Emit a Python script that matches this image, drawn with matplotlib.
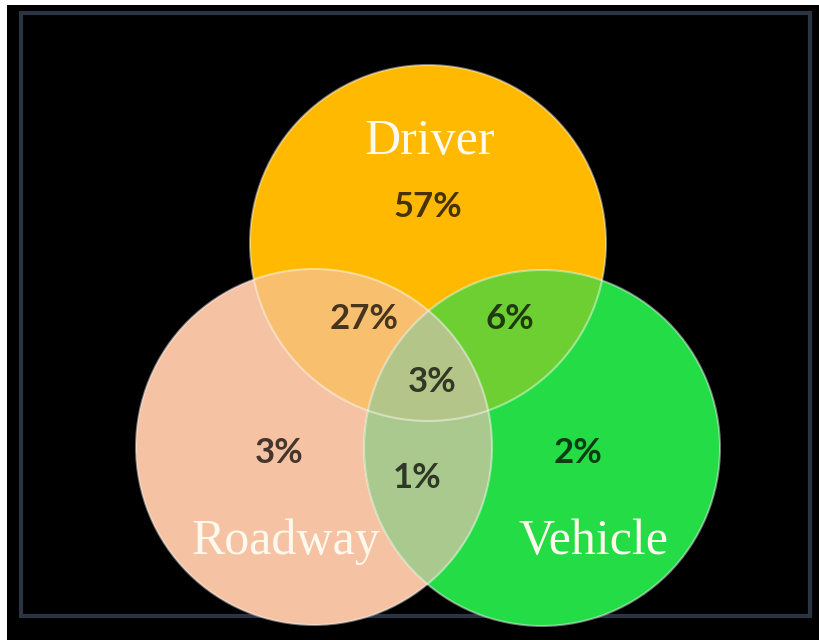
import numpy as np
import matplotlib
matplotlib.use("Agg")
import matplotlib.pyplot as plt
from matplotlib.patches import Circle, Polygon, Rectangle

# ---- data ----
set_names = ["Driver", "Roadway", "Vehicle"]
region_keys = ["D", "R", "V", "DR", "DV", "RV", "DRV"]
region_values = [57, 3, 2, 27, 6, 1, 3]

# ---- layout / style ----
centers = {"D": (428, 243), "R": (314, 447), "V": (542, 448)}
radius = 178
base_colors = {"D": "#FFB900", "R": "#F5C2A3", "V": "#24DC46"}
overlap_colors = {"DR": "#F8BF6E", "DV": "#6ECF32", "RV": "#AAC98E", "DRV": "#B3C589"}
name_pos = {"Driver": (430, 142), "Roadway": (286, 542), "Vehicle": (594, 542)}
value_pos = {"D": (428, 207), "R": (279, 453), "V": (578, 453),
             "DR": (364, 319), "DV": (510, 319), "RV": (417, 478), "DRV": (432, 382)}

fig = plt.figure(figsize=(8.2, 6.4), dpi=100, facecolor="white")
ax = fig.add_axes([0, 0, 1, 1])
ax.set_xlim(0, 820)
ax.set_ylim(640, 0)
ax.axis("off")

ax.add_patch(Rectangle((7, 5), 813, 635, facecolor="black", edgecolor="none", zorder=0))
ax.add_patch(Rectangle((21.5, 12.5), 789, 603, facecolor="none", edgecolor="#2B3440",
                       linewidth=3, zorder=1))


def intersection_polygon(keys, n=720):
    pts = []
    t = np.linspace(0, 2 * np.pi, n, endpoint=False)
    for k in keys:
        cx, cy = centers[k]
        xs = cx + radius * np.cos(t)
        ys = cy + radius * np.sin(t)
        mask = np.ones(n, dtype=bool)
        for o in keys:
            if o == k:
                continue
            ox, oy = centers[o]
            mask &= (xs - ox) ** 2 + (ys - oy) ** 2 <= radius ** 2 + 1e-6
        pts.append(np.column_stack([xs[mask], ys[mask]]))
    pts = np.vstack(pts)
    c = pts.mean(axis=0)
    ang = np.arctan2(pts[:, 1] - c[1], pts[:, 0] - c[0])
    return pts[np.argsort(ang)]


for k in ["D", "R", "V"]:
    ax.add_patch(Circle(centers[k], radius, facecolor=base_colors[k], edgecolor="none", zorder=2))

for key in ["DR", "DV", "RV", "DRV"]:
    poly = intersection_polygon(list(key))
    ax.add_patch(Polygon(poly, closed=True, facecolor=overlap_colors[key],
                         edgecolor="none", zorder=3))

for k in ["D", "R", "V"]:
    ax.add_patch(Circle(centers[k], radius, facecolor="none", edgecolor="white",
                        alpha=0.45, linewidth=1.5, zorder=4))

for name in set_names:
    x, y = name_pos[name]
    ax.text(x, y, name, ha="center", va="center", fontsize=36,
            family="Liberation Serif", color="#FFF8EC", zorder=6)

for key, val in zip(region_keys, region_values):
    x, y = value_pos[key]
    ax.text(x, y, f"{val}%", ha="center", va="center", fontsize=25,
            family="Lato", fontweight="bold", color="black", alpha=0.72, zorder=6)

fig.savefig("out.png", dpi=100, facecolor="white")
